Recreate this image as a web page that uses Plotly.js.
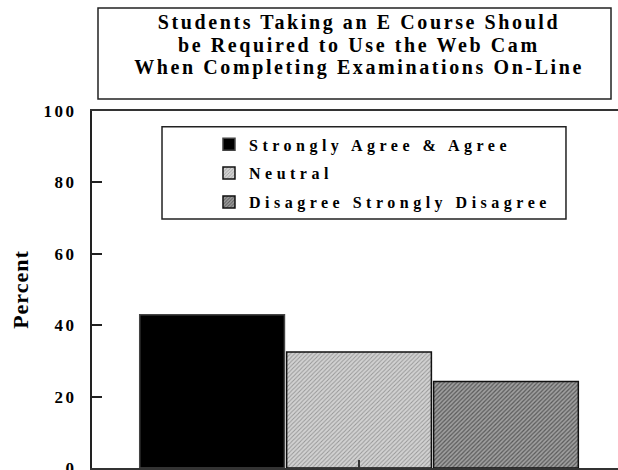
<!DOCTYPE html>
<html>
<head>
<meta charset="utf-8">
<script src="https://cdn.plot.ly/plotly-3.0.1.min.js"></script>
<style>
  html, body { margin: 0; padding: 0; background: #fff; }
  #plot { width: 618px; height: 470px; }
  #plot .annotation-text { letter-spacing: 2.6px; }
  #plot .legendtext { letter-spacing: 4.5px; }
  #plot .ytitle { letter-spacing: 1px; }
  #plot .ytick text { letter-spacing: 2.5px; }
</style>
</head>
<body>
<div id="plot"></div>
<script>
// ---- data ----
var categories = ['Web Cam Required'];
var seriesNames = ['Strongly Agree & Agree', 'Neutral', 'Disagree Strongly Disagree'];
var agreeValues = [42.9];
var neutralValues = [32.5];
var disagreeValues = [24.2];
var yTickValues = [0, 20, 40, 60, 80, 100];
var yTickLabels = ['0', '20', '40', '60', '80', '100'];
var titleLines = [
  'Students Taking an E Course Should',
  'be Required to Use the Web Cam',
  'When Completing Examinations On-Line'
];
var yTitle = 'Percent';

var serif = 'Liberation Serif, Times New Roman, serif';

var traces = [
  {
    type: 'bar', name: seriesNames[0], x: categories, y: agreeValues,
    legendgroup: 'a',
    marker: { color: '#000000', line: { color: '#444444', width: 1.5 } }
  },
  {
    type: 'bar', name: seriesNames[1], x: categories, y: neutralValues,
    legendgroup: 'b',
    marker: {
      color: '#cfcfcf', line: { color: '#111111', width: 1.5 },
      pattern: { shape: '/', size: 3, solidity: 0.3, fgcolor: '#959595', bgcolor: '#d2d2d2', fillmode: 'replace' }
    }
  },
  {
    type: 'bar', name: seriesNames[2], x: categories, y: disagreeValues,
    legendgroup: 'c',
    marker: {
      color: '#8a8a8a', line: { color: '#111111', width: 1.5 },
      pattern: { shape: '/', size: 3, solidity: 0.4, fgcolor: '#5a5a5a', bgcolor: '#a0a0a0', fillmode: 'replace' }
    }
  }
];

// title lines as annotations (tight leading like the reference)
var titleY = [22, 45, 67]; // pixel rows of the title lines
var annotations = titleLines.map(function (t, i) {
  return {
    text: t, xref: 'paper', yref: 'paper',
    x: (359 - 92) / 526, y: (468 - titleY[i]) / 357,
    xanchor: 'center', yanchor: 'middle', showarrow: false,
    font: { family: serif, size: 20, weight: 'bold', color: '#000' }
  };
});

var layout = {
  width: 618, height: 470,
  paper_bgcolor: '#ffffff', plot_bgcolor: '#ffffff',
  margin: { l: 92, r: 0, t: 111, b: 2, pad: 0 },
  barmode: 'group', bargap: 0.2, bargroupgap: 0.015,
  showlegend: true,
  annotations: annotations,
  xaxis: {
    type: 'category', range: [-0.4846, 0.470],
    showline: true, linecolor: '#333333', linewidth: 2, mirror: true,
    ticks: 'inside', ticklen: 8, tickwidth: 2, tickcolor: '#333333',
    showticklabels: false, showgrid: false, zeroline: false, fixedrange: true
  },
  yaxis: {
    range: [0, 100], tickvals: yTickValues, ticktext: yTickLabels,
    showline: true, linecolor: '#222222', linewidth: 2,
    ticks: 'inside', ticklen: 10, tickwidth: 2, tickcolor: '#222222',
    tickfont: { family: serif, size: 17, weight: 'bold', color: '#000' },
    ticklabelstandoff: 10, ticklabeloverflow: 'allow',
    showgrid: false, zeroline: false, fixedrange: true,
    title: { text: yTitle, font: { family: serif, size: 22, weight: 'bold', color: '#000' } },
    automargin: false
  },
  legend: {
    x: 0.2224, xanchor: 'left', y: 0.954, yanchor: 'top',
    bgcolor: 'rgba(0,0,0,0)', borderwidth: 0,
    traceorder: 'grouped', tracegroupgap: 5,
    font: { family: serif, size: 16, weight: 'bold', color: '#000' }
  },
  shapes: [
    { type: 'rect', xref: 'paper', yref: 'paper', x0: 0.0114, x1: 0.9867, y0: 1.0336, y1: 1.2885,
      line: { color: '#222222', width: 1.5 }, fillcolor: 'rgba(0,0,0,0)' },
    { type: 'rect', xref: 'paper', yref: 'paper', x0: 0.1331, x1: 0.9011, y0: 0.6975, y1: 0.956,
      line: { color: '#222222', width: 1.5 }, fillcolor: '#ffffff', layer: 'below' }
  ]
};

Plotly.newPlot('plot', traces, layout, { staticPlot: true, displayModeBar: false }).then(function (gd) {
  // let the letter-spaced legend text show in full
  gd.querySelectorAll('.legend [clip-path]').forEach(function (el) { el.removeAttribute('clip-path'); });
  // place the y-axis title where the reference has it
  var yt = gd.querySelector('.g-ytitle');
  if (yt) yt.setAttribute('transform', 'translate(-9,0)');
});
</script>
</body>
</html>
